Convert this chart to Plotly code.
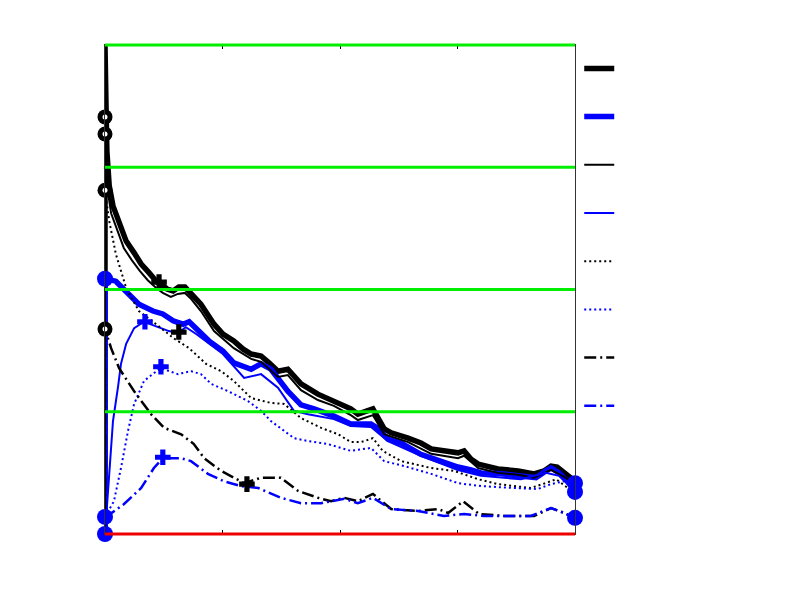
import plotly.graph_objects as go

# x in percent of the run (0..100), y normalised (0..1)
thick_black_x = [0, 0, 0.2, 0.4, 0.9, 1.7, 3.0, 4.5, 6.2, 7.7, 9.4, 10.9, 11.9, 13.2, 14.5, 15.7, 17.0, 18.3,
                 20.4, 23.2, 25.1, 27.4, 29.4, 31.1, 33.2, 34.9, 36.8, 38.9, 40.2, 41.7, 45.3, 48.7, 52.3,
                 53.8, 55.5, 57.0, 59.4, 60.9, 64.5, 67.2, 69.4, 72.6, 75.1, 76.4, 77.9, 79.4, 83.6, 87.9,
                 91.3, 93.4, 94.9, 96.2, 97.7, 100]
thick_black_y = [0, 1.0, 0.885, 0.783, 0.712, 0.671, 0.636, 0.599, 0.575, 0.552, 0.534, 0.517, 0.511, 0.501,
                 0.497, 0.505, 0.505, 0.493, 0.470, 0.429, 0.409, 0.395, 0.378, 0.368, 0.364, 0.350, 0.333,
                 0.337, 0.321, 0.307, 0.286, 0.272, 0.256, 0.245, 0.252, 0.256, 0.215, 0.207, 0.196, 0.186,
                 0.174, 0.168, 0.166, 0.170, 0.153, 0.143, 0.133, 0.129, 0.123, 0.129, 0.139, 0.137, 0.125,
                 0.108]

thick_blue_x = [0, 0, 2.3, 5.1, 7.2, 10.2, 12.3, 14.5, 16.6, 17.9, 19.4, 22.1, 25.1, 27.4, 31.1, 33.2, 35.3,
                38.9, 41.7, 44.5, 48.7, 52.3, 56.6, 57.9, 60.2, 63.0, 67.2, 71.5, 75.1, 77.9, 80.0, 84.3,
                88.5, 91.7, 93.8, 94.9, 96.6, 98.3, 100]
thick_blue_y = [0, 0.522, 0.517, 0.491, 0.470, 0.456, 0.450, 0.436, 0.429, 0.434, 0.421, 0.395, 0.374, 0.350,
                0.337, 0.348, 0.337, 0.292, 0.264, 0.256, 0.241, 0.225, 0.225, 0.217, 0.194, 0.186, 0.163,
                0.149, 0.137, 0.131, 0.125, 0.123, 0.119, 0.115, 0.129, 0.135, 0.125, 0.108, 0.092]

thin_black_x = [0, 0, 0.2, 0.6, 1.3, 2.6, 4.0, 5.7, 7.4, 9.1, 10.9, 12.3, 14.0, 15.5, 17.0, 18.3, 20.4, 23.2,
                27.4, 31.1, 33.2, 36.8, 38.9, 41.7, 45.3, 48.7, 52.3, 53.8, 57.0, 59.4, 64.5, 69.4, 75.1,
                76.4, 79.4, 83.6, 87.9, 91.3, 94.9, 97.7, 100]
thin_black_y = [0, 0.818, 0.783, 0.701, 0.656, 0.620, 0.585, 0.560, 0.538, 0.519, 0.503, 0.493, 0.485, 0.491,
                0.493, 0.481, 0.456, 0.415, 0.380, 0.358, 0.352, 0.321, 0.325, 0.294, 0.274, 0.262, 0.243,
                0.233, 0.243, 0.204, 0.188, 0.164, 0.155, 0.160, 0.135, 0.125, 0.121, 0.115, 0.131, 0.117,
                0.102]

thin_blue_x = [0, 0.9, 1.7, 2.8, 3.4, 4.5, 6.2, 8.3, 10.9, 13.6, 15.5, 17.2, 19.4, 22.1, 25.1, 29.6, 33.2,
               36.8, 40.2, 43.2, 48.7, 52.3, 56.6, 60.2, 67.2, 75.1, 80.0, 88.5, 93.8, 96.6, 100]
thin_blue_y = [0, 0.129, 0.231, 0.303, 0.348, 0.389, 0.421, 0.434, 0.425, 0.415, 0.411, 0.423, 0.409, 0.389,
               0.368, 0.319, 0.327, 0.299, 0.252, 0.245, 0.235, 0.221, 0.219, 0.190, 0.160, 0.131, 0.119,
               0.112, 0.125, 0.119, 0.088]

dot_black_x = [0, 0, 0.9, 2.3, 4.5, 7.2, 10.9, 14.5, 17.9, 21.5, 24.7, 27.4, 31.1, 35.3, 38.1, 41.7, 46.0,
               49.6, 52.3, 54.5, 57.0, 59.1, 63.0, 69.4, 74.3, 79.4, 83.6, 90.6, 94.3, 96.0, 98.5, 100]
dot_black_y = [0, 0.703, 0.640, 0.573, 0.503, 0.456, 0.429, 0.401, 0.380, 0.348, 0.333, 0.313, 0.278, 0.268,
               0.266, 0.237, 0.217, 0.204, 0.188, 0.188, 0.196, 0.170, 0.149, 0.135, 0.129, 0.112, 0.102,
               0.094, 0.106, 0.112, 0.094, 0.088]

dot_blue_x = [0, 1.9, 3.4, 4.9, 6.2, 8.3, 10.4, 11.9, 15.5, 18.3, 20.4, 22.6, 26.2, 30.4, 33.2, 35.3, 38.1,
              40.2, 43.2, 47.4, 50.2, 52.3, 56.6, 59.4, 63.6, 69.4, 75.1, 80.0, 87.0, 92.1, 94.9, 97.7, 100]
dot_blue_y = [0.035, 0.067, 0.135, 0.211, 0.266, 0.313, 0.329, 0.339, 0.327, 0.333, 0.327, 0.307, 0.292,
              0.272, 0.252, 0.231, 0.211, 0.196, 0.190, 0.184, 0.176, 0.170, 0.176, 0.149, 0.139, 0.123,
              0.104, 0.098, 0.094, 0.092, 0.102, 0.108, 0.088]

dashdot_black_x = [0, 0, 1.3, 3.0, 6.2, 9.8, 12.6, 16.2, 18.9, 21.1, 24.7, 29.6, 33.2, 37.4, 41.1, 45.3,
                   48.1, 50.9, 53.8, 57.0, 60.9, 66.6, 70.9, 73.0, 76.2, 77.9, 79.6, 84.9, 91.3, 94.9, 97.7,
                   100]
dashdot_black_y = [0, 0.419, 0.380, 0.339, 0.292, 0.245, 0.217, 0.204, 0.184, 0.155, 0.129, 0.104, 0.115,
                   0.115, 0.088, 0.074, 0.067, 0.074, 0.067, 0.082, 0.051, 0.047, 0.051, 0.043, 0.067, 0.053,
                   0.041, 0.037, 0.037, 0.053, 0.043, 0.033]

dashdot_blue_x = [0, 4.0, 7.7, 10.4, 12.3, 16.2, 18.3, 21.9, 25.3, 28.9, 32.6, 37.4, 41.7, 46.0, 48.1, 50.9,
                  53.8, 57.0, 60.9, 66.6, 72.1, 76.4, 80.6, 90.6, 94.9, 97.7, 100]
dashdot_blue_y = [0.033, 0.061, 0.094, 0.135, 0.155, 0.155, 0.149, 0.123, 0.108, 0.098, 0.094, 0.074, 0.063,
                  0.063, 0.067, 0.072, 0.063, 0.074, 0.051, 0.047, 0.037, 0.041, 0.037, 0.037, 0.053, 0.043,
                  0.033]

# marker points
start_black_y = [0.853, 0.818, 0.703, 0.419]
start_blue_y = [0.522, 0.035, 0.0]
plus_black_x = [11.5, 15.7, 30.2]
plus_black_y = [0.515, 0.413, 0.102]
plus_blue_x = [8.5, 11.9, 12.3]
plus_blue_y = [0.434, 0.342, 0.157]
end_blue_y = [0.104, 0.086, 0.033]

grid_y = [0.25, 0.5, 0.75, 1.0]

BLACK = "#000000"
BLUE = "#0000ff"

series = [
    (thick_black_x, thick_black_y, BLACK, 5.5, "solid"),
    (thick_blue_x, thick_blue_y, BLUE, 5.5, "solid"),
    (thin_black_x, thin_black_y, BLACK, 2, "solid"),
    (thin_blue_x, thin_blue_y, BLUE, 2, "solid"),
    (dot_black_x, dot_black_y, BLACK, 2, "2px,3px"),
    (dot_blue_x, dot_blue_y, BLUE, 2, "2px,3px"),
    (dashdot_black_x, dashdot_black_y, BLACK, 2.5, "12px,4px,2px,4px"),
    (dashdot_blue_x, dashdot_blue_y, BLUE, 2.5, "12px,4px,2px,4px"),
]

fig = go.Figure()
for i, (xs, ys, colour, width, dash) in enumerate(series):
    fig.add_trace(go.Scatter(
        x=xs, y=ys, mode="lines", name="",
        line=dict(color=colour, width=width, dash=dash),
        legendgroup=f"g{i}", showlegend=True,
    ))

# markers: heavy black rings are a filled disc with a small white centre
start_x = [0] * len(start_black_y)
marker_sets = [
    (start_x, start_black_y, dict(symbol="circle", size=15, color=BLACK)),
    (start_x, start_black_y, dict(symbol="circle", size=5, color="white")),
    ([0] * len(start_blue_y), start_blue_y, dict(symbol="circle", size=16, color=BLUE)),
    (plus_black_x, plus_black_y, dict(symbol="cross", size=13, color=BLACK)),
    (plus_blue_x, plus_blue_y, dict(symbol="cross", size=13, color=BLUE)),
    ([100] * len(end_blue_y), end_blue_y, dict(symbol="circle", size=16, color=BLUE)),
]
for mx, my, mk in marker_sets:
    fig.add_trace(go.Scatter(x=mx, y=my, mode="markers", showlegend=False,
                             marker=mk, cliponaxis=False))

# green reference lines and red baseline, on top of the curves and not clipped
# (y range is 0..1 over the full domain, so paper y equals data y)
for gy in grid_y:
    fig.add_shape(type="line", x0=0, x1=1, y0=gy, y1=gy, xref="paper", yref="paper",
                  line=dict(color="#00ee00", width=3), layer="above")
fig.add_shape(type="line", x0=0, x1=1, y0=0, y1=0, xref="paper", yref="paper",
              line=dict(color="#ee0000", width=3), layer="above")

fig.update_xaxes(
    range=[0, 100], tickvals=[25, 50, 75], ticks="inside", ticklen=4, tickcolor=BLACK,
    showticklabels=False, showgrid=False, zeroline=False,
    showline=True, linecolor="#333333", linewidth=1, mirror="ticks",
)
fig.update_yaxes(
    range=[0, 1], tickvals=[0.25, 0.5, 0.75], ticks="inside", ticklen=4, tickcolor=BLACK,
    showticklabels=False, showgrid=False, zeroline=False,
    showline=True, linecolor="#333333", linewidth=1, mirror="ticks",
)
fig.update_layout(
    width=800, height=600,
    margin=dict(l=97, r=233, t=37, b=74),
    paper_bgcolor="white", plot_bgcolor="white",
    legend=dict(
        x=1.009, xanchor="left", y=0.984, yanchor="top",
        traceorder="grouped", tracegroupgap=27,
        font=dict(family="DejaVu Sans", size=14, color=BLACK),
        bgcolor="rgba(0,0,0,0)",
    ),
)

fig.write_html("out.html")
